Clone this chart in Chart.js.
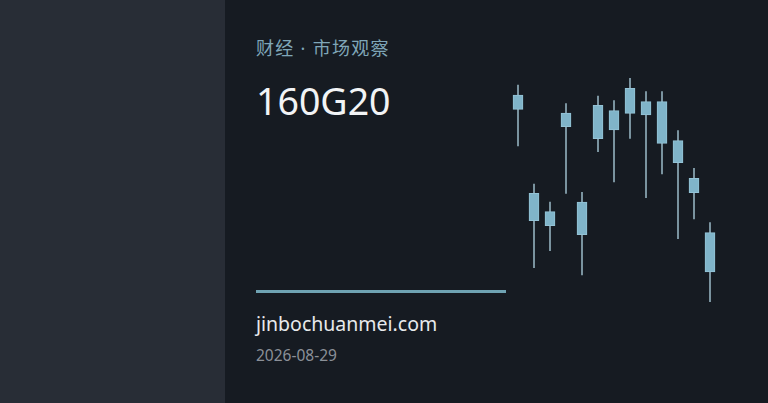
<!DOCTYPE html>
<html>
<head>
<meta charset="utf-8">
<script src="https://cdn.jsdelivr.net/npm/chart.js@4/dist/chart.umd.min.js"></script>
<style>
  html, body { margin: 0; padding: 0; }
  body {
    width: 768px; height: 403px; overflow: hidden; position: relative;
    background: #161b22;
    font-family: "Noto Sans", "Noto Sans CJK SC", sans-serif;
  }
  .side { position: absolute; left: 0; top: 0; width: 225px; height: 403px; background: #282d36; }
  .kicker { position: absolute; left: 256px; top: 34px; font-size: 18px; color: #7fa6b8; letter-spacing: 1.3px; font-family: "Noto Sans", "Noto Sans CJK SC", sans-serif; }
  .title { position: absolute; left: 256px; top: 75px; font-size: 37.5px; color: #f2f4f6; }
  .rule { position: absolute; left: 256px; top: 290px; width: 250px; height: 3px; background: #6fa3b3; }
  .site { position: absolute; left: 256px; top: 310px; font-size: 19.5px; color: #e8eaec; }
  .date { position: absolute; left: 256px; top: 344px; font-size: 15.5px; color: #8b9098; }
  #candles { position: absolute; left: 510px; top: 78px; }
</style>
</head>
<body>
<div class="side"></div>
<div class="kicker">财经 · 市场观察</div>
<div class="title">160G20</div>
<div class="rule"></div>
<div class="site">jinbochuanmei.com</div>
<div class="date">2026-08-29</div>
<canvas id="candles" width="208" height="224"></canvas>
<script>
const days = ['1', '2', '3', '4', '5', '6', '7', '8', '9', '10', '11', '12', '13'];
const open  = [30.50, 20.67, 17.43, 28.70, 16.53, 26.13, 28.93, 28.67, 29.83, 29.83, 25.93, 20.73, 16.73];
const close = [29.07, 17.93, 18.83, 27.33, 19.80, 29.47, 27.00, 31.17, 28.50, 25.67, 23.73, 22.17, 12.80];
const high  = [31.50, 21.60, 19.80, 29.63, 20.77, 30.40, 29.93, 32.17, 30.83, 30.83, 26.93, 23.17, 17.73];
const low   = [25.40, 13.23, 14.93, 20.67, 12.50, 24.83, 21.80, 26.17, 20.23, 22.60, 16.13, 18.10, 9.83];

const wicks = days.map((d, i) => [low[i], high[i]]);
const bodies = days.map((d, i) => [Math.min(open[i], close[i]), Math.max(open[i], close[i])]);

new Chart(document.getElementById('candles').getContext('2d'), {
  type: 'bar',
  data: {
    labels: days,
    datasets: [
      {
        label: 'body',
        data: bodies,
        backgroundColor: '#80b4c9',
        borderColor: '#94c3d6',
        borderWidth: 1,
        borderSkipped: false,
        barThickness: 10,
        grouped: false,
        order: 1
      },
      {
        label: 'wick',
        data: wicks,
        backgroundColor: '#90adba',
        borderWidth: 0,
        barThickness: 1,
        grouped: false,
        order: 2
      }
    ]
  },
  options: {
    responsive: false,
    animation: false,
    layout: { padding: 0 },
    plugins: { legend: { display: false }, tooltip: { enabled: false } },
    scales: {
      x: { display: false, offset: true },
      y: { display: false, min: 9.8, max: 32.2 }
    }
  }
});
</script>
</body>
</html>
